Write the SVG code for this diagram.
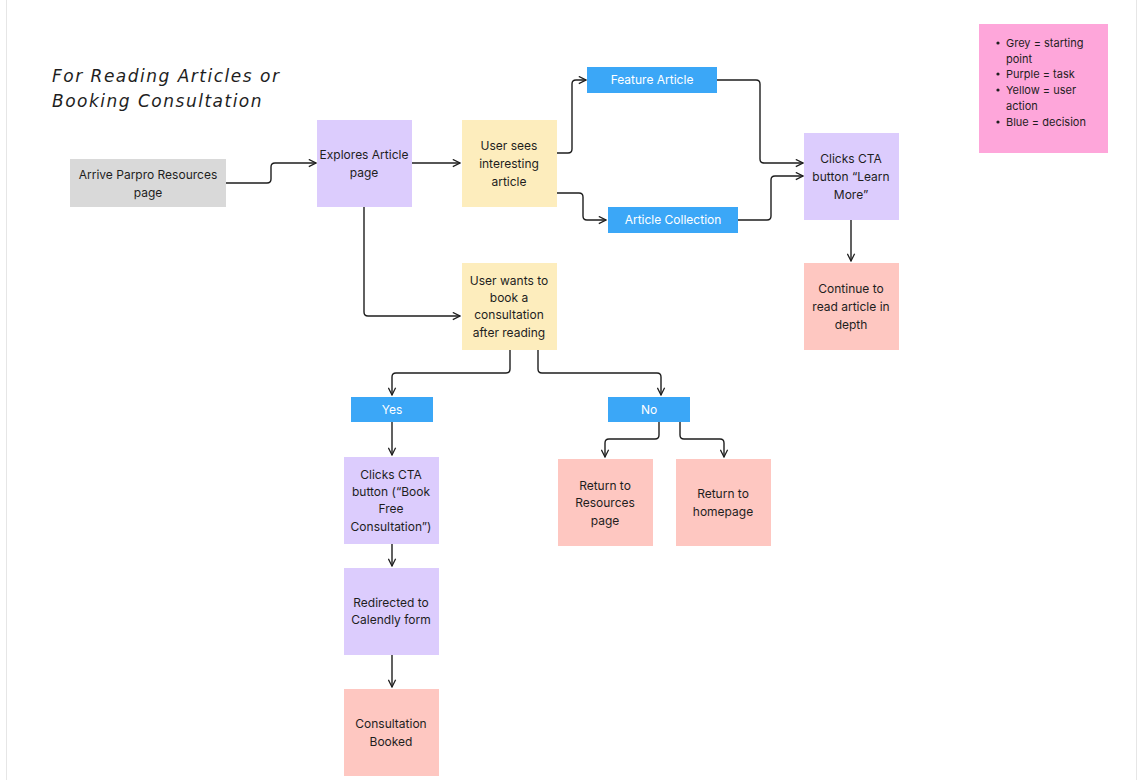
<svg xmlns="http://www.w3.org/2000/svg" width="1142" height="780" viewBox="0 0 1142 780">
<defs>
<marker id="a" viewBox="0 0 10 10" refX="9" refY="5" markerWidth="9" markerHeight="9" markerUnits="userSpaceOnUse" orient="auto"><path d="M1,1 L9,5 L1,9" fill="none" stroke="#1e1e1e" stroke-width="1.4"/></marker>
</defs>
<style>
text{font-family:Inter,"Liberation Sans",sans-serif;font-size:12px;fill:#1e1e1e;text-anchor:middle}
.w{fill:#fff}
.c path{fill:none;stroke:#1e1e1e;stroke-width:1.4;stroke-linejoin:round;marker-end:url(#a)}
.g{fill:#d9d9d9}.p{fill:#dcccfd}.y{fill:#fdedbd}.b{fill:#3ba7f7}.r{fill:#fec7c1}
</style>
<rect width="1142" height="780" fill="#fff"/>
<rect x="6.5" y="-2" width="1130" height="790" fill="none" stroke="#e6e6e6"/>
<g id="title"><text x="52" y="82" style="text-anchor:start;font-size:17px;font-style:italic;letter-spacing:1.5px;font-family:'DejaVu Sans',sans-serif;font-weight:300">For Reading Articles or</text><text x="52" y="107" style="text-anchor:start;font-size:17px;font-style:italic;letter-spacing:1.5px;font-family:'DejaVu Sans',sans-serif;font-weight:300">Booking Consultation</text></g>
<g id="legend"><rect x="979" y="24" width="129" height="129" fill="#fea6da"/>
<g style="text-anchor:start;font-size:11px"><circle cx="998" cy="43" r="1.6" fill="#1e1e1e"/><text x="1006" y="47" style="text-anchor:start;font-size:11px">Grey = starting</text><text x="1006" y="63" style="text-anchor:start;font-size:11px">point</text>
<circle cx="998" cy="74" r="1.6" fill="#1e1e1e"/><text x="1006" y="78" style="text-anchor:start;font-size:11px">Purple = task</text>
<circle cx="998" cy="90" r="1.6" fill="#1e1e1e"/><text x="1006" y="94" style="text-anchor:start;font-size:11px">Yellow = user</text><text x="1006" y="110" style="text-anchor:start;font-size:11px">action</text>
<circle cx="998" cy="122" r="1.6" fill="#1e1e1e"/><text x="1006" y="126" style="text-anchor:start;font-size:11px">Blue = decision</text></g></g>
<g class="c" id="connectors">
<path d="M226,183 H267 Q271,183 271,179 V167 Q271,163 275,163 H316"/>
<path d="M412,163 H460"/>
<path d="M557,153 H568 Q572,153 572,149 V84 Q572,80 576,80 H586"/>
<path d="M557,193 H579 Q583,193 583,197 V216 Q583,220 587,220 H606"/>
<path d="M717,80 H756 Q760,80 760,84 V159 Q760,163 764,163 H803"/>
<path d="M738,220 H767 Q771,220 771,216 V180 Q771,176 775,176 H803"/>
<path d="M851,220 V261"/>
<path d="M364,207 V312 Q364,316 368,316 H460"/>
<path d="M510,350 V369 Q510,373 506,373 H396 Q392,373 392,377 V395"/>
<path d="M538,350 V369 Q538,373 542,373 H657 Q661,373 661,377 V395"/>
<path d="M392,422 V455"/>
<path d="M659,422 V435 Q659,439 655,439 H609 Q605,439 605,443 V457"/>
<path d="M680,422 V435 Q680,439 684,439 H720 Q724,439 724,443 V457"/>
<path d="M392,544 V566"/>
<path d="M392,655 V687"/>
</g>
<g id="n1"><rect class="g" x="70" y="159" width="156" height="48"/><text x="148" y="179">Arrive Parpro Resources</text><text x="148" y="197">page</text></g>
<g id="n2"><rect class="p" x="317" y="120" width="95" height="87"/><text x="364" y="159">Explores Article</text><text x="364" y="177">page</text></g>
<g id="n3"><rect class="y" x="462" y="120" width="95" height="87"/><text x="509" y="150">User sees</text><text x="509" y="168">interesting</text><text x="509" y="186">article</text></g>
<g id="n4"><rect class="b" x="587" y="67" width="130" height="26"/><text class="w" x="652" y="84">Feature Article</text></g>
<g id="n5"><rect class="b" x="608" y="207" width="130" height="26"/><text class="w" x="673" y="224">Article Collection</text></g>
<g id="n6"><rect class="p" x="804" y="133" width="95" height="87"/><text x="851" y="163">Clicks CTA</text><text x="851" y="181">button “Learn</text><text x="851" y="199">More”</text></g>
<g id="n7"><rect class="r" x="804" y="263" width="95" height="87"/><text x="851" y="293">Continue to</text><text x="851" y="311">read article in</text><text x="851" y="329">depth</text></g>
<g id="n8"><rect class="y" x="462" y="263" width="95" height="87"/><text x="509" y="285">User wants to</text><text x="509" y="302">book a</text><text x="509" y="319">consultation</text><text x="509" y="337">after reading</text></g>
<g id="n9"><rect class="b" x="351" y="397" width="82" height="25"/><text class="w" x="392" y="414">Yes</text></g>
<g id="n10"><rect class="b" x="608" y="397" width="82" height="25"/><text class="w" x="649" y="414">No</text></g>
<g id="n11"><rect class="p" x="344" y="457" width="95" height="87"/><text x="391" y="479">Clicks CTA</text><text x="391" y="496">button (“Book</text><text x="391" y="513">Free</text><text x="391" y="531">Consultation”)</text></g>
<g id="n12"><rect class="p" x="344" y="568" width="95" height="87"/><text x="391" y="607">Redirected to</text><text x="391" y="624">Calendly form</text></g>
<g id="n13"><rect class="r" x="344" y="689" width="95" height="87"/><text x="391" y="728">Consultation</text><text x="391" y="746">Booked</text></g>
<g id="n14"><rect class="r" x="558" y="459" width="95" height="87"/><text x="605" y="490">Return to</text><text x="605" y="507">Resources</text><text x="605" y="525">page</text></g>
<g id="n15"><rect class="r" x="676" y="459" width="95" height="87"/><text x="723" y="498">Return to</text><text x="723" y="516">homepage</text></g>
</svg>
